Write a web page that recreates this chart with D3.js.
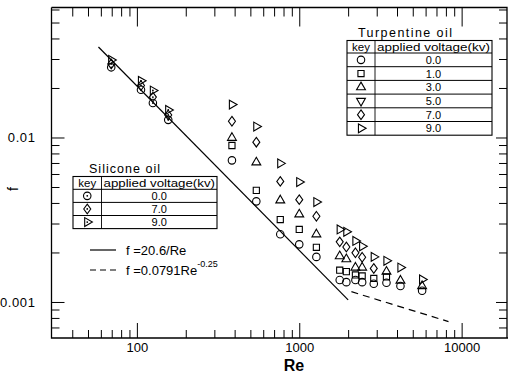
<!DOCTYPE html>
<html>
<head>
<meta charset="utf-8">
<script src="https://cdn.jsdelivr.net/npm/d3@7"></script>
<style>
  html, body { margin: 0; padding: 0; background: #fff; }
  svg { display: block; font-family: "Liberation Sans", Arial, sans-serif; }
  .tick line { stroke: #000; stroke-width: 1; }
  .tick text { fill: #000; }
</style>
</head>
<body>
<div id="chart"></div>
<script>
// ---- data ----
// Silicone oil (low Re)
const silRe = [69.5, 106, 125.5, 156];
const sil00F = [0.0267, 0.0195, 0.0162, 0.0128];
const sil70F = [0.0280, 0.0207, 0.0176, 0.0137];
const sil90F = [0.0296, 0.0221, 0.0193, 0.0147];

// Turpentine oil
const t00Re = [385, 544, 764, 1000, 1275, 1775, 1950, 2218, 2440, 2877, 3444, 4200, 5710];
const t00F  = [0.00726, 0.00409, 0.00258, 0.00224, 0.00188, 0.00136, 0.00132, 0.00136, 0.00132, 0.00129, 0.00131, 0.00125, 0.00117];
const t10Re = [385, 544, 764, 1000, 1275, 1775, 1950, 2218, 2440, 2877, 3444];
const t10F  = [0.00894, 0.00477, 0.00317, 0.00276, 0.00215, 0.00156, 0.00153, 0.00146, 0.00144, 0.00139, 0.00142];
const t30Re = [385, 544, 764, 1000, 1275, 1775, 1950, 2218, 2440, 3444, 4200, 5710];
const t30F  = [0.00996, 0.00706, 0.00415, 0.00341, 0.00258, 0.00190, 0.00182, 0.00162, 0.00162, 0.00153, 0.00135, 0.00125];
const t70Re = [385, 544, 764, 1000, 1275, 1775, 1950, 2218, 2440, 2877];
const t70F  = [0.01256, 0.00937, 0.00541, 0.00419, 0.00332, 0.00232, 0.00216, 0.00199, 0.00187, 0.00160];
const t90Re = [385, 544, 764, 1000, 1275, 1775, 1950, 2218, 2440, 2877, 3444, 4200, 5710];
const t90F  = [0.01585, 0.01166, 0.00696, 0.00536, 0.00405, 0.00276, 0.00267, 0.00235, 0.00218, 0.00188, 0.00178, 0.00162, 0.00137];

// reference lines (end points)
const lamRe = [58, 2000];
const lamF  = [0.0355, 0.00103];
const turbRe = [2095, 8300];
const turbF  = [0.001155, 0.00076];

// ticks
const xMajor = [100, 1000, 10000];
const xLabels = ["100", "1000", "10000"];
const xMinor = [40, 50, 60, 70, 80, 90, 200, 300, 400, 500, 600, 700, 800, 900,
                2000, 3000, 4000, 5000, 6000, 7000, 8000, 9000];
const yMajor = [0.001, 0.01];
const yLabels = ["0.001", "0.01"];
const yMinor = [0.0007, 0.0008, 0.0009, 0.002, 0.003, 0.004, 0.005, 0.006, 0.007,
                0.008, 0.009, 0.02, 0.03, 0.04, 0.05, 0.06];

// legends
const turpShapes = ["circle", "square", "triUp", "triDown", "diamond", "triRight"];
const turpVolts = ["0.0", "1.0", "3.0", "5.0", "7.0", "9.0"];
const silShapes = ["circle", "diamond", "triRight"];
const silVolts = ["0.0", "7.0", "9.0"];

const width = 508, height = 380;
const mLeft = 51.5, mRight = 508, mTop = 7.5, mBottom = 338;

const svg = d3.select("#chart").append("svg")
  .attr("width", width)
  .attr("height", height)
  .attr("viewBox", `0 0 ${width} ${height}`);

const x = d3.scaleLog().domain([29.8, 19300]).range([mLeft, mRight]);
const y = d3.scaleLog().domain([0.000604, 0.0617]).range([mBottom, mTop]);

// ---- axes ----
function strip(g) { g.select(".domain").remove(); }

svg.append("g").attr("transform", `translate(0,${mBottom})`)
  .call(d3.axisBottom(x).tickValues(xMinor).tickSize(-8).tickFormat("")).call(strip);
svg.append("g").attr("transform", `translate(0,${mBottom})`)
  .call(d3.axisBottom(x).tickValues(xMajor).tickSize(-15).tickPadding(5)
    .tickFormat((d, i) => xLabels[i]))
  .call(strip)
  .selectAll("text").attr("font-size", 13).attr("font-family", "Liberation Sans, Arial");

svg.append("g").attr("transform", `translate(0,${mTop})`)
  .call(d3.axisTop(x).tickValues(xMinor).tickSize(-9).tickFormat("")).call(strip);
svg.append("g").attr("transform", `translate(0,${mTop})`)
  .call(d3.axisTop(x).tickValues(xMajor).tickSize(-19).tickFormat("")).call(strip);

svg.append("g").attr("transform", `translate(${mLeft},0)`)
  .call(d3.axisLeft(y).tickValues(yMinor).tickSize(-8).tickFormat("")).call(strip);
svg.append("g").attr("transform", `translate(${mLeft},0)`)
  .call(d3.axisLeft(y).tickValues(yMajor).tickSize(-13).tickPadding(16)
    .tickFormat((d, i) => yLabels[i]))
  .call(strip)
  .selectAll("text").attr("font-size", 13).attr("letter-spacing", 0.6)
  .attr("font-family", "Liberation Sans, Arial");

svg.append("g").attr("transform", `translate(${mRight - 1},0)`)
  .call(d3.axisRight(y).tickValues(yMinor).tickSize(-8).tickFormat("")).call(strip);
svg.append("g").attr("transform", `translate(${mRight - 1},0)`)
  .call(d3.axisRight(y).tickValues(yMajor).tickSize(-11).tickFormat("")).call(strip);

// frame
svg.append("path")
  .attr("d", `M${mLeft},${mTop}V${mBottom}H${mRight}M${mLeft},${mTop}H${mRight - 1}V${mBottom}`)
  .attr("fill", "none").attr("stroke", "#000").attr("stroke-width", 1.3);

// axis titles
svg.append("text").attr("x", 294).attr("y", 371)
  .attr("text-anchor", "middle").attr("font-size", 16).attr("font-weight", "bold")
  .text("Re");
svg.append("text")
  .attr("transform", "translate(18,189) rotate(-90)")
  .attr("text-anchor", "middle").attr("font-size", 14)
  .text("f");

// ---- reference lines ----
const line = d3.line().x(d => x(d[0])).y(d => y(d[1]));
svg.append("path").datum(d3.zip(lamRe, lamF))
  .attr("d", line).attr("fill", "none").attr("stroke", "#000").attr("stroke-width", 1.2);
svg.append("path").datum(d3.zip(turbRe, turbF))
  .attr("d", line).attr("fill", "none").attr("stroke", "#000").attr("stroke-width", 1.2)
  .attr("stroke-dasharray", "7,5");

// ---- markers ----
function shapePath(shape) {
  switch (shape) {
    case "circle": return d3.symbol(d3.symbolCircle, 44)();
    case "square": return d3.symbol(d3.symbolSquare, 38)();
    case "diamond": return "M0,-4.8L3.5,0L0,4.8L-3.5,0Z";
    default: return d3.symbol(d3.symbolTriangle, 34)();
  }
}
function shapeRot(shape) {
  if (shape === "triDown") return 180;
  if (shape === "triRight") return 90;
  return 0;
}

function drawMarker(g, shape, px, py, dotted) {
  g.append("path")
    .attr("d", shapePath(shape))
    .attr("transform", `translate(${px},${py}) rotate(${shapeRot(shape)})`)
    .attr("fill", "none").attr("stroke", "#000").attr("stroke-width", 1.1);
  if (dotted) {
    g.append("circle").attr("cx", px).attr("cy", py).attr("r", 0.9).attr("fill", "#000");
  }
}

const series = [
  { re: t00Re, f: t00F, shape: "circle" },
  { re: t10Re, f: t10F, shape: "square" },
  { re: t30Re, f: t30F, shape: "triUp" },
  { re: t70Re, f: t70F, shape: "diamond" },
  { re: t90Re, f: t90F, shape: "triRight" },
  { re: silRe, f: sil00F, shape: "circle", dotted: true },
  { re: silRe, f: sil70F, shape: "diamond", dotted: true },
  { re: silRe, f: sil90F, shape: "triRight", dotted: true }
];

const marks = svg.append("g");
series.forEach(s => {
  s.re.forEach((r, i) => drawMarker(marks, s.shape, x(r), y(s.f[i]), s.dotted));
});

// ---- legend tables ----
function drawTable(opts) {
  const g = svg.append("g");
  const { x0, x1, xk, y0, headH, rowH, title, titleX, titleLen, shapes, volts, dotted } = opts;
  const n = shapes.length;
  const y1 = y0 + headH + rowH * n;

  g.append("text").attr("x", titleX).attr("y", y0 - 4)
    .attr("font-size", 12.5).attr("textLength", titleLen).attr("lengthAdjust", "spacing")
    .text(title);

  g.append("rect").attr("x", x0).attr("y", y0).attr("width", x1 - x0).attr("height", y1 - y0)
    .attr("fill", "none").attr("stroke", "#000").attr("stroke-width", 1.1);
  g.append("line").attr("x1", xk).attr("x2", xk).attr("y1", y0).attr("y2", y1)
    .attr("stroke", "#000").attr("stroke-width", 0.9);
  for (let i = 0; i < n; i++) {
    const ry = y0 + headH + rowH * i;
    g.append("line").attr("x1", x0).attr("x2", x1).attr("y1", ry).attr("y2", ry)
      .attr("stroke", "#000").attr("stroke-width", 1);
  }
  g.append("text").attr("x", (x0 + xk) / 2).attr("y", y0 + headH - 2)
    .attr("text-anchor", "middle").attr("font-size", 11.5).text("key");
  g.append("text").attr("x", (xk + x1) / 2).attr("y", y0 + headH - 2)
    .attr("text-anchor", "middle").attr("font-size", 11.5)
    .attr("textLength", x1 - xk - 4).attr("lengthAdjust", "spacingAndGlyphs")
    .text("applied voltage(kv)");

  shapes.forEach((sh, i) => {
    const cy = y0 + headH + rowH * (i + 0.5);
    drawMarker(g, sh, (x0 + xk) / 2, cy, dotted);
    g.append("text").attr("x", (xk + x1) / 2).attr("y", cy + 4)
      .attr("text-anchor", "middle").attr("font-size", 11).text(volts[i]);
  });
}

drawTable({
  x0: 347, x1: 492, xk: 375, y0: 40.5, headH: 12.5, rowH: 13.7,
  title: "Turpentine oil", titleX: 358, titleLen: 94,
  shapes: turpShapes, volts: turpVolts, dotted: false
});
drawTable({
  x0: 73, x1: 217, xk: 101.5, y0: 176.5, headH: 12.8, rowH: 13.1,
  title: "Silicone oil", titleX: 89, titleLen: 71,
  shapes: silShapes, volts: silVolts, dotted: true
});

// ---- line legend ----
svg.append("line").attr("x1", 90).attr("x2", 116).attr("y1", 250).attr("y2", 250)
  .attr("stroke", "#000").attr("stroke-width", 1.2);
svg.append("text").attr("x", 126).attr("y", 255).attr("font-size", 13).text("f =20.6/Re");
svg.append("line").attr("x1", 90).attr("x2", 116).attr("y1", 270).attr("y2", 270)
  .attr("stroke", "#000").attr("stroke-width", 1.2).attr("stroke-dasharray", "6,4");
const t2 = svg.append("text").attr("x", 126).attr("y", 275).attr("font-size", 13);
t2.append("tspan").text("f =0.0791Re");
t2.append("tspan").attr("dy", -8).attr("font-size", 9).text("-0.25");
</script>
</body>
</html>
